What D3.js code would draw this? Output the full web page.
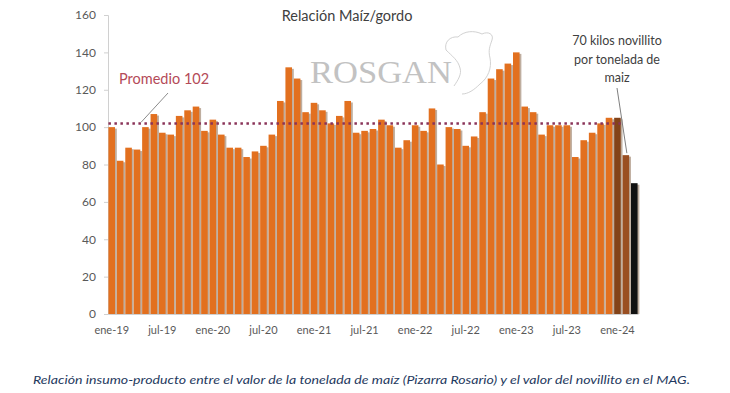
<!DOCTYPE html>
<html>
<head>
<meta charset="utf-8">
<script src="https://cdn.jsdelivr.net/npm/d3@7"></script>
<style>
  body { margin: 0; background: #fff; }
  svg text { font-family: Lato, "Open Sans", sans-serif; }
</style>
</head>
<body>
<script>
// monthly series ene-19 .. mar-24
var months = ["ene", "feb", "mar", "abr", "may", "jun", "jul", "ago", "sep", "oct", "nov", "dic"];
var values = [100, 82, 89, 88, 100, 107, 97, 96, 106, 109, 111, 98,
              104, 96, 89, 89, 84, 87, 90, 96, 114, 132, 126, 108,
              113, 109, 102, 106, 114, 97, 98, 99, 104, 101, 89, 93,
              101, 98, 110, 80, 100, 99, 90, 95, 108, 126, 131, 134,
              140, 111, 108, 96, 101, 101, 101, 84, 93, 97, 102, 105,
              105, 85, 70];
var categories = values.map(function (v, i) {
    return months[i % 12] + "-" + (19 + Math.floor(i / 12));
});
var tickLabels = categories.filter(function (c, i) { return i % 6 == 0; });
var yTicks = [0, 20, 40, 60, 80, 100, 120, 140, 160];
var promedio = 102;
var noteLines = ["70 kilos novillito", "por tonelada de", "maiz"];

var W = 730, H = 393;
var svg = d3.select("body").append("svg")
    .attr("width", W)
    .attr("height", H);

var x = d3.scaleBand()
    .domain(categories)
    .range([108, 638])
    .paddingInner(0.22)
    .paddingOuter(0.05);

var y = d3.scaleLinear()
    .domain([0, 160])
    .range([314, 15]);

// watermark
svg.append("text")
    .attr("x", 310)
    .attr("y", 83)
    .attr("textLength", 142)
    .attr("lengthAdjust", "spacingAndGlyphs")
    .style("font-family", "'Liberation Serif', 'DejaVu Serif', serif")
    .style("font-size", "32px")
    .style("fill", "#c2c2c2")
    .text("ROSGAN");
svg.append("path")
    .attr("d", "M446,50 C444,42 450,36 458,37 C464,31 474,30 482,34 C488,31 494,34 492,40 C490,46 488,50 490,58 C492,68 488,78 480,84 C474,90 468,94 462,94 M446,50 C452,56 458,60 460,68 C462,74 458,80 454,86")
    .style("fill", "none")
    .style("stroke", "#d2d2d2")
    .style("stroke-width", 1);

// axes
var yAxis = svg.append("g")
    .attr("transform", "translate(108,0)")
    .call(d3.axisLeft(y).tickValues(yTicks).tickSize(4).tickPadding(8));
yAxis.select(".domain").attr("stroke", "#d0d0d0");
yAxis.selectAll(".tick line").attr("stroke", "#d0d0d0");
yAxis.selectAll("text")
    .style("font-size", "12px")
    .style("fill", "#595959");

var xAxis = svg.append("g")
    .attr("transform", "translate(0,314)")
    .call(d3.axisBottom(x).tickValues(tickLabels).tickSize(0).tickPadding(12));
xAxis.select(".domain").attr("stroke", "#d0d0d0");
xAxis.selectAll("text")
    .style("font-size", "11px")
    .style("fill", "#595959");

// bar shadows then bars
svg.append("g").selectAll("rect")
    .data(values)
    .enter().append("rect")
    .attr("x", function (d, i) { return x(categories[i]) + 1.8; })
    .attr("y", function (d) { return y(d) + 1.5; })
    .attr("width", x.bandwidth())
    .attr("height", function (d) { return y(0) - y(d) - 1.5; })
    .style("fill", "#bfae9f");

svg.append("g").selectAll("rect")
    .data(values)
    .enter().append("rect")
    .attr("x", function (d, i) { return x(categories[i]); })
    .attr("y", function (d) { return y(d); })
    .attr("width", x.bandwidth())
    .attr("height", function (d) { return y(0) - y(d); })
    .style("fill", function (d, i) {
        if (i == values.length - 1) return "#111111";
        if (i == values.length - 2) return "#9a4f22";
        if (i == values.length - 3) return "#834319";
        return "#e2701f";
    });

// average line
svg.append("line")
    .attr("x1", x(categories[0]))
    .attr("x2", x(categories[60]) + x.bandwidth())
    .attr("y1", y(promedio))
    .attr("y2", y(promedio))
    .style("stroke", "#8a3358")
    .style("stroke-width", 2.5)
    .style("stroke-dasharray", "2.5,3.5");

svg.append("text")
    .attr("x", 119)
    .attr("y", 84)
    .style("font-size", "14.5px")
    .style("fill", "#b44a58")
    .text("Promedio " + promedio);
svg.append("line")
    .attr("x1", 168).attr("y1", 93)
    .attr("x2", 141).attr("y2", y(promedio) - 1)
    .style("stroke", "#8c8c8c")
    .style("stroke-width", 1);

// title
svg.append("text")
    .attr("x", 347)
    .attr("y", 21)
    .attr("text-anchor", "middle")
    .style("font-size", "14.5px")
    .style("fill", "#404040")
    .text("Relación Maíz/gordo");

// note on last bar
svg.append("g").selectAll("text")
    .data(noteLines)
    .enter().append("text")
    .attr("x", 617)
    .attr("y", function (d, i) { return 45 + i * 18.5; })
    .attr("text-anchor", "middle")
    .style("font-size", "12.5px")
    .style("fill", "#404040")
    .text(function (d) { return d; });
svg.append("line")
    .attr("x1", 617).attr("y1", 88)
    .attr("x2", x(categories[61]) + x.bandwidth() / 2 + 1).attr("y2", y(values[61]) - 2)
    .style("stroke", "#7f7f7f")
    .style("stroke-width", 1);

// caption
svg.append("text")
    .attr("x", 33)
    .attr("y", 384)
    .attr("textLength", 657)
    .attr("lengthAdjust", "spacingAndGlyphs")
    .style("font-size", "11.5px")
    .style("font-style", "italic")
    .style("fill", "#1f3a60")
    .text("Relación insumo-producto entre el valor de la tonelada de maíz (Pizarra Rosario) y el valor del novillito en el MAG.");
</script>
</body>
</html>
